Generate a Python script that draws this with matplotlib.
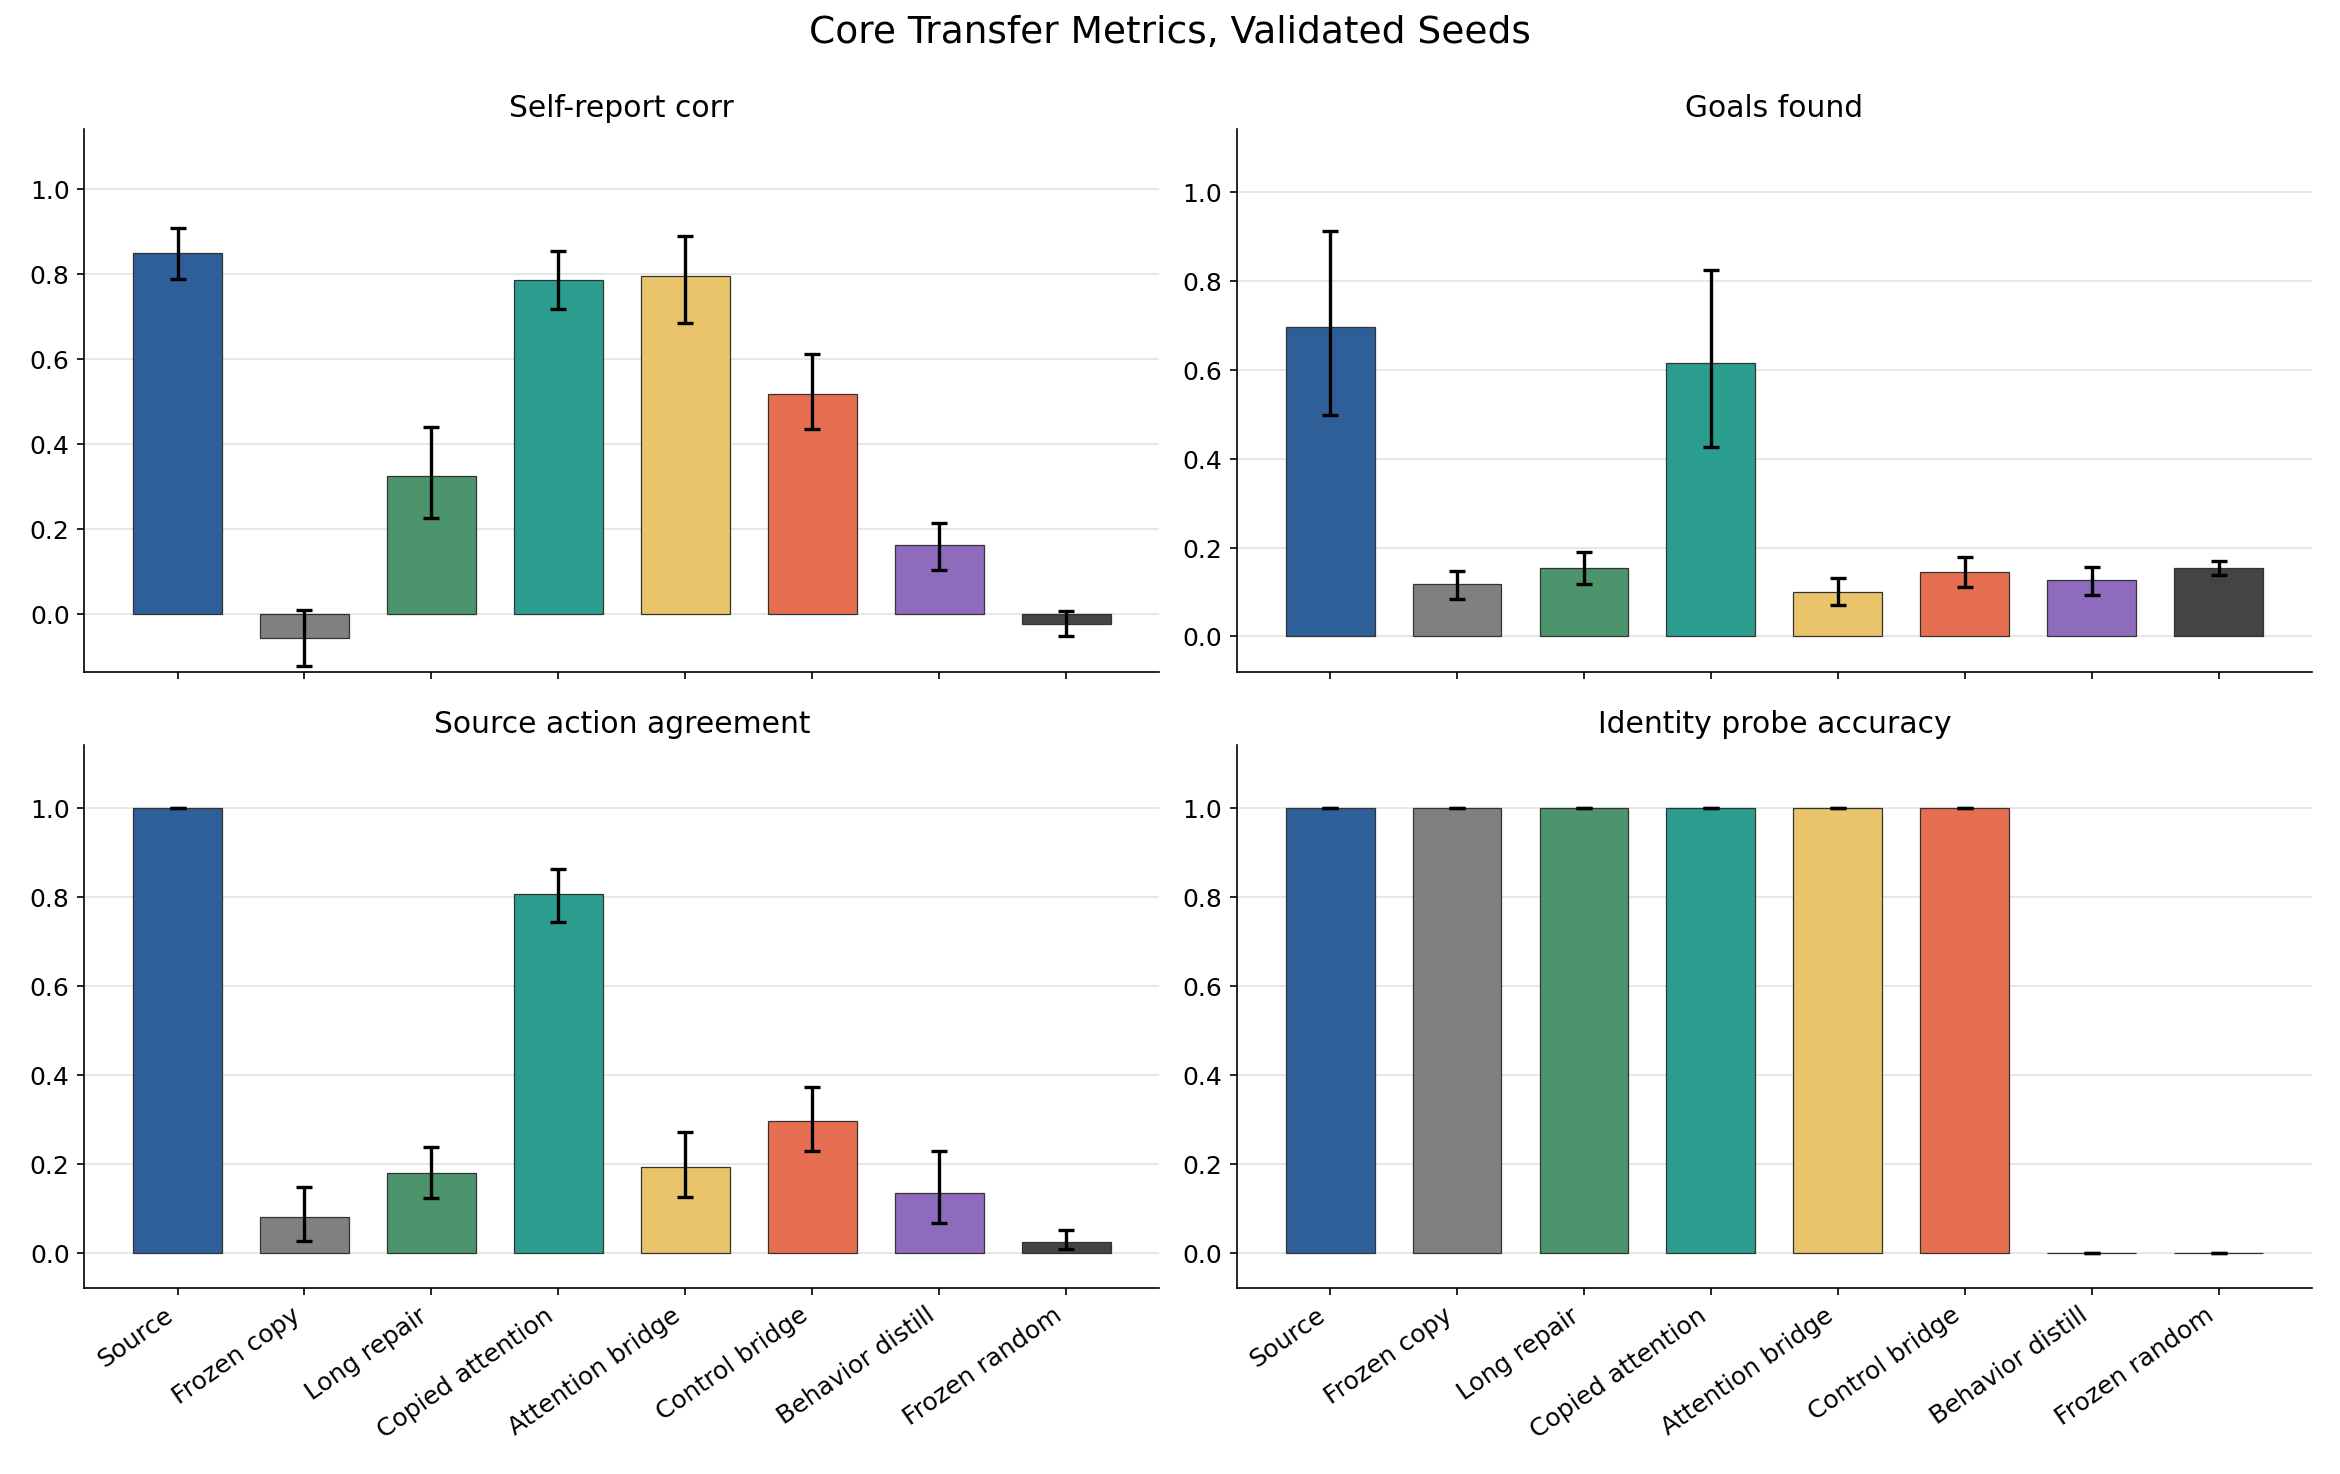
import numpy as np
import matplotlib
matplotlib.use("Agg")
from matplotlib import pyplot as plt

methods = ["Source", "Frozen copy", "Long repair", "Copied attention",
           "Attention bridge", "Control bridge", "Behavior distill", "Frozen random"]
colors = ["#2e5f98", "#808080", "#4c956c", "#2a9d8f",
          "#e9c46a", "#e76f51", "#8f6bbd", "#444444"]

# mean, lower and upper end of the error bar, per metric
self_report = [0.850, -0.057, 0.324, 0.785, 0.795, 0.517, 0.161, -0.024]
self_report_lo = [0.787, -0.122, 0.225, 0.716, 0.684, 0.435, 0.103, -0.052]
self_report_hi = [0.907, 0.010, 0.440, 0.854, 0.889, 0.611, 0.213, 0.006]

goals = [0.695, 0.118, 0.154, 0.614, 0.100, 0.145, 0.126, 0.154]
goals_lo = [0.498, 0.085, 0.118, 0.426, 0.071, 0.111, 0.093, 0.139]
goals_hi = [0.912, 0.147, 0.190, 0.823, 0.132, 0.179, 0.156, 0.170]

action = [1.000, 0.080, 0.179, 0.806, 0.192, 0.295, 0.135, 0.023]
action_lo = [1.000, 0.026, 0.123, 0.743, 0.125, 0.229, 0.066, 0.008]
action_hi = [1.000, 0.148, 0.238, 0.862, 0.271, 0.372, 0.229, 0.051]

identity = [1.0, 1.0, 1.0, 1.0, 1.0, 1.0, 0.0, 0.0]
identity_lo = [1.0, 1.0, 1.0, 1.0, 1.0, 1.0, 0.0, 0.0]
identity_hi = [1.0, 1.0, 1.0, 1.0, 1.0, 1.0, 0.0, 0.0]

panels = [
    ("Self-report corr", self_report, self_report_lo, self_report_hi, (-0.137, 1.14)),
    ("Goals found", goals, goals_lo, goals_hi, (-0.08, 1.14)),
    ("Source action agreement", action, action_lo, action_hi, (-0.08, 1.14)),
    ("Identity probe accuracy", identity, identity_lo, identity_hi, (-0.08, 1.14)),
]

fig, axes = plt.subplots(2, 2, figsize=(15.6, 9.83), dpi=150, sharex=True)
x = np.arange(len(methods))

for ax, (title, vals, lo, hi, ylim) in zip(axes.flat, panels):
    vals = np.array(vals)
    yerr = [vals - np.array(lo), np.array(hi) - vals]
    ax.bar(x, vals, width=0.7, color=colors, edgecolor="#333333", linewidth=0.6, zorder=2)
    ax.errorbar(x, vals, yerr=yerr, fmt="none", ecolor="black", elinewidth=1.6,
                capsize=4, capthick=1.6, zorder=3)
    ax.set_title(title, fontsize=14.3)
    ax.set_ylim(*ylim)
    ax.set_yticks([0.0, 0.2, 0.4, 0.6, 0.8, 1.0])
    ax.grid(axis="y", color="#e6e6e6", linewidth=0.9, zorder=0)
    ax.set_axisbelow(True)
    ax.spines["top"].set_visible(False)
    ax.spines["right"].set_visible(False)
    ax.tick_params(labelsize=12)

for ax in axes[1]:
    ax.set_xticks(x)
    ax.set_xticklabels(methods, rotation=35, ha="right", fontsize=12)

fig.suptitle("Core Transfer Metrics, Validated Seeds", fontsize=18, y=0.99)
fig.subplots_adjust(left=0.036, right=0.988, top=0.912, bottom=0.126, hspace=0.135, wspace=0.072)
plt.savefig("out.png")
